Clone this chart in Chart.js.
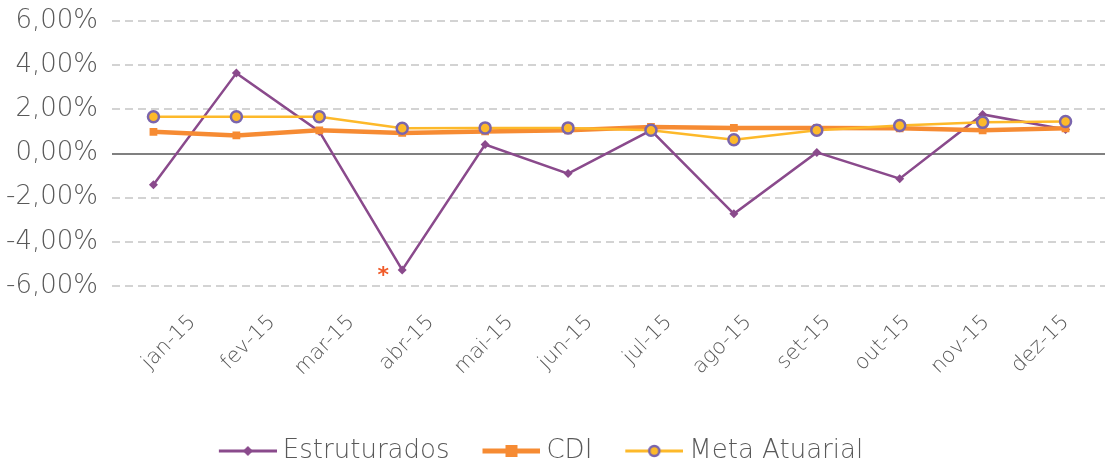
<!DOCTYPE html>
<html>
<head>
<meta charset="utf-8">
<script src="https://cdn.jsdelivr.net/npm/chart.js@4"></script>
<style>
  html, body { margin: 0; padding: 0; background: #fff; overflow: hidden; }
  #wrap { width: 1115px; height: 464px; position: relative; }
</style>
</head>
<body>
<div id="wrap"><canvas id="myChart"></canvas></div>
<script>
const ctx = document.getElementById('myChart');

const months = ['jan-15', 'fev-15', 'mar-15', 'abr-15', 'mai-15', 'jun-15', 'jul-15', 'ago-15', 'set-15', 'out-15', 'nov-15', 'dez-15'];
const estruturados = [-1.41, 3.64, 1.0, -5.27, 0.41, -0.91, 1.05, -2.73, 0.05, -1.14, 1.77, 1.09];
const cdi = [0.98, 0.82, 1.05, 0.93, 1.0, 1.05, 1.2, 1.16, 1.16, 1.14, 1.05, 1.14];
const metaAtuarial = [1.66, 1.66, 1.66, 1.14, 1.16, 1.16, 1.05, 0.62, 1.05, 1.27, 1.41, 1.45];
const yTicks = [-6, -4, -2, 0, 2, 4, 6];

const PURPLE = '#8a4a8c';
const ORANGE = '#f68b33';
const YELLOW = '#fdb92a';
const RING = '#7a65ad';
const FONT = "'DejaVu Sans', sans-serif";

// little line+marker images for the legend (transparent margin on the left = gap between items)
function legendIcon(kind) {
  const c = document.createElement('canvas');
  c.width = 84; c.height = 16;
  const g = c.getContext('2d');
  const x0 = 26, x1 = 84, mid = 55;
  if (kind === 'diamond') {
    g.strokeStyle = PURPLE; g.lineWidth = 3;
    g.beginPath(); g.moveTo(x0, 8); g.lineTo(x1, 8); g.stroke();
    g.fillStyle = PURPLE;
    g.beginPath(); g.moveTo(mid, 3); g.lineTo(mid + 5, 8); g.lineTo(mid, 13); g.lineTo(mid - 5, 8); g.closePath(); g.fill();
  } else if (kind === 'square') {
    g.strokeStyle = ORANGE; g.lineWidth = 5;
    g.beginPath(); g.moveTo(x0, 8); g.lineTo(x1, 8); g.stroke();
    g.fillStyle = ORANGE;
    g.fillRect(mid - 6, 2, 12, 12);
  } else {
    g.strokeStyle = YELLOW; g.lineWidth = 3;
    g.beginPath(); g.moveTo(x0, 8); g.lineTo(x1, 8); g.stroke();
    g.fillStyle = YELLOW; g.strokeStyle = RING; g.lineWidth = 2.5;
    g.beginPath(); g.arc(mid, 8, 5, 0, Math.PI * 2); g.fill(); g.stroke();
  }
  return c;
}
const icons = [legendIcon('diamond'), legendIcon('square'), legendIcon('circle')];

// red asterisk note next to the April low
const asteriskNote = {
  id: 'asteriskNote',
  afterDatasetsDraw(chart) {
    const x = chart.scales.x.getPixelForValue(3) - 19;
    const y = chart.scales.y.getPixelForValue(-5.3);
    const c = chart.ctx;
    c.save();
    c.fillStyle = '#f05a28';
    c.font = 'bold 22px ' + FONT;
    c.textAlign = 'center';
    c.textBaseline = 'middle';
    c.fillText('*', x, y + 6);
    c.restore();
  }
};

// the legend in the original sits a bit left of centre
const legendShift = {
  id: 'legendShift',
  afterLayout(chart) {
    const lg = chart.legend;
    if (!lg) return;
    lg.left -= 26;
    lg.right -= 26;
    (lg.legendHitBoxes || []).forEach(h => { h.left -= 26; });
  }
};

new Chart(ctx, {
  type: 'line',
  data: {
    labels: months,
    datasets: [{
      label: 'Estruturados',
      data: estruturados,
      borderColor: PURPLE,
      backgroundColor: PURPLE,
      borderWidth: 2.5,
      pointStyle: 'rectRot',
      pointRadius: 4.5,
      pointBorderWidth: 0,
      order: 3
    }, {
      label: 'CDI',
      data: cdi,
      borderColor: ORANGE,
      backgroundColor: ORANGE,
      borderWidth: 4.5,
      pointStyle: 'rect',
      pointRadius: 5.5,
      pointBorderWidth: 0,
      order: 2
    }, {
      label: 'Meta Atuarial',
      data: metaAtuarial,
      borderColor: YELLOW,
      backgroundColor: YELLOW,
      borderWidth: 2.5,
      pointStyle: 'circle',
      pointRadius: 5.5,
      pointBorderColor: RING,
      pointBorderWidth: 2.5,
      order: 1
    }]
  },
  options: {
    responsive: true,
    maintainAspectRatio: false,
    animation: false,
    layout: { padding: { top: 21, left: 0, right: 0, bottom: -10 } },
    scales: {
      x: {
        type: 'category',
        offset: true,
        display: false
      },
      // label axis: the month labels in the original are spaced a little tighter than the points
      xl: {
        type: 'linear',
        position: 'bottom',
        axis: 'x',
        min: -1.016,
        max: 11.52,
        afterBuildTicks(scale) { scale.ticks = months.map((m, i) => ({ value: i })); },
        grid: { display: false, drawTicks: false },
        border: { display: false },
        ticks: {
          color: '#595959',
          font: { family: FONT, size: 21, weight: 200 },
          maxRotation: 45,
          minRotation: 45,
          padding: 24,
          callback: v => months[v]
        },
        afterFit(scale) { scale.height = 138; }
      },
      y: {
        min: -6,
        max: 6,
        afterBuildTicks(scale) { scale.ticks = yTicks.map(v => ({ value: v })); },
        border: {
          display: false,
          dash: c => (c.tick && c.tick.value === 0) ? [] : [8, 5]
        },
        grid: {
          drawTicks: false,
          lineWidth: 2,
          color: c => (c.tick && c.tick.value === 0) ? '#808080' : '#d3d3d3'
        },
        ticks: {
          color: '#595959',
          font: { family: FONT, size: 26, weight: 200 },
          padding: 14,
          callback: v => v.toFixed(2).replace('.', ',') + '%'
        },
        afterFit(scale) {
          scale.width = 112;
          scale.paddingTop = 0;
          scale.paddingBottom = 0;
        }
      }
    },
    plugins: {
      tooltip: { enabled: false },
      legend: {
        position: 'bottom',
        labels: {
          color: '#595959',
          font: { family: FONT, size: 26, weight: 200 },
          usePointStyle: true,
          pointStyleWidth: 70,
          boxHeight: 16,
          padding: 14,
          generateLabels(chart) {
            return chart.data.datasets.map((ds, i) => ({
              text: ds.label,
              pointStyle: icons[i],
              fillStyle: ds.backgroundColor,
              strokeStyle: ds.borderColor,
              lineWidth: 0,
              fontColor: '#595959',
              hidden: false,
              datasetIndex: i
            }));
          }
        }
      }
    }
  },
  plugins: [asteriskNote, legendShift]
});
</script>
</body>
</html>
